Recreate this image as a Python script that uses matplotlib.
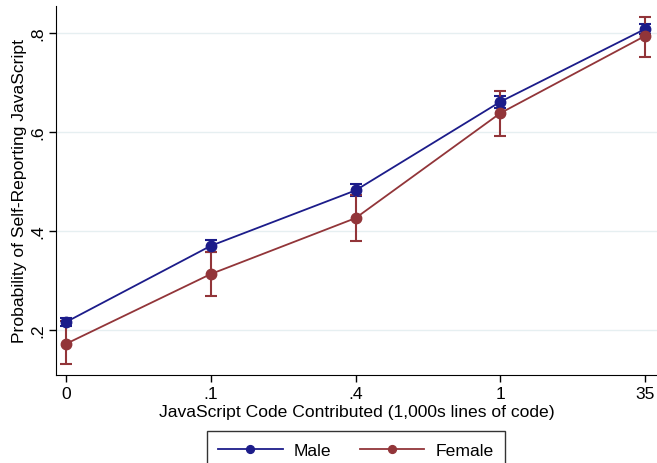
import matplotlib.pyplot as plt

plt.rcParams['font.family'] = ['Liberation Sans', 'DejaVu Sans']

# categories on the x axis
categories = ['0', '.1', '.4', '1', '35']

# predicted probabilities and 95% CI bounds
male = [0.216, 0.370, 0.482, 0.661, 0.808]
male_lo = [0.208, 0.358, 0.470, 0.649, 0.798]
male_hi = [0.224, 0.382, 0.494, 0.673, 0.818]

female = [0.172, 0.313, 0.426, 0.638, 0.794]
female_lo = [0.131, 0.269, 0.380, 0.592, 0.752]
female_hi = [0.218, 0.358, 0.473, 0.683, 0.832]

y_ticks = [0.2, 0.4, 0.6, 0.8]
y_tick_labels = ['.2', '.4', '.6', '.8']

navy = '#1c1c8a'
maroon = '#923539'
fs = 12.6

fig = plt.figure(figsize=(6.57, 4.64), dpi=100)
ax = fig.add_axes([56 / 657, 1 - 376 / 464, 1 - 56 / 657, (376 - 7) / 464])

x = list(range(len(categories)))

# Konfidenzintervalle
ax.errorbar(x, male, yerr=[[m - l for m, l in zip(male, male_lo)], [h - m for m, h in zip(male, male_hi)]],
            fmt='none', ecolor=navy, elinewidth=1.5, capsize=4.5, capthick=1.5, zorder=2)
ax.errorbar(x, female, yerr=[[m - l for m, l in zip(female, female_lo)], [h - m for m, h in zip(female, female_hi)]],
            fmt='none', ecolor=maroon, elinewidth=1.5, capsize=4.5, capthick=1.5, zorder=2)

# Linien mit Punkten
ax.plot(x, male, color=navy, lw=1.3, marker='o', markersize=7.5, label='Male', zorder=3)
ax.plot(x, female, color=maroon, lw=1.3, marker='o', markersize=7.5, label='Female', zorder=4)

ax.set_xlim(-10 / 145, 4 + 12 / 145)
ax.set_ylim(0.2 - 45 / 99 * 0.2, 0.8 + 27 / 99 * 0.2)

ax.set_xticks(x)
ax.set_xticklabels(categories, fontsize=fs)
ax.set_yticks(y_ticks)
ax.set_yticklabels(y_tick_labels, fontsize=fs, rotation=90, va='center')

ax.grid(axis='y', color='#e6eff1', lw=1)
ax.set_axisbelow(True)
ax.spines['top'].set_visible(False)
ax.spines['right'].set_visible(False)
ax.tick_params(direction='out', length=5, width=1, colors='black', pad=3)

ax.set_xlabel('JavaScript Code Contributed (1,000s lines of code)', fontsize=fs, labelpad=2)
ax.set_ylabel('Probability of Self-Reporting JavaScript', fontsize=fs, labelpad=2)

leg = fig.legend(loc='upper center', bbox_to_anchor=(356 / 657, 1 - 432 / 464), ncol=2,
                 fontsize=fs, frameon=True, fancybox=False, edgecolor='black',
                 handlelength=3.7, handletextpad=0.65, columnspacing=1.6,
                 borderpad=0.65, borderaxespad=0, markerscale=0.75)
leg.get_frame().set_linewidth(1)

fig.savefig('out.png', dpi=100)
